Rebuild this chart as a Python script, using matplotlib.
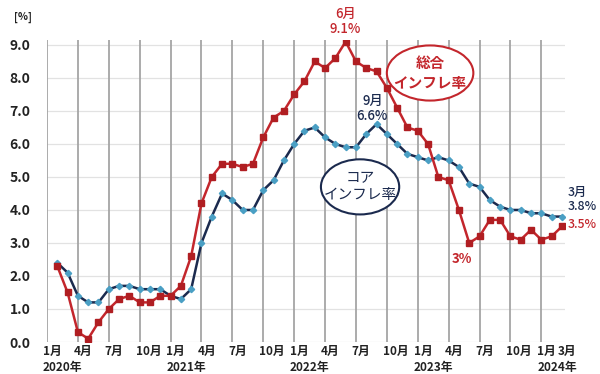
import matplotlib
matplotlib.use("Agg")
import matplotlib.pyplot as plt
from matplotlib.patches import Ellipse
import numpy as np

plt.rcParams['font.family'] = ['Noto Sans CJK JP', 'DejaVu Sans']

# month index: 0 = Jan 2020
start_month = 1  # data starts Feb 2020
headline = [2.3, 1.5, 0.3, 0.1, 0.6, 1.0, 1.3, 1.4, 1.2, 1.2, 1.4,
            1.4, 1.7, 2.6, 4.2, 5.0, 5.4, 5.4, 5.3, 5.4, 6.2, 6.8, 7.0,
            7.5, 7.9, 8.5, 8.3, 8.6, 9.1, 8.5, 8.3, 8.2, 7.7, 7.1, 6.5,
            6.4, 6.0, 5.0, 4.9, 4.0, 3.0, 3.2, 3.7, 3.7, 3.2, 3.1, 3.4,
            3.1, 3.2, 3.5]
core = [2.4, 2.1, 1.4, 1.2, 1.2, 1.6, 1.7, 1.7, 1.6, 1.6, 1.6,
        1.4, 1.3, 1.6, 3.0, 3.8, 4.5, 4.3, 4.0, 4.0, 4.6, 4.9, 5.5,
        6.0, 6.4, 6.5, 6.2, 6.0, 5.9, 5.9, 6.3, 6.6, 6.3, 6.0, 5.7,
        5.6, 5.5, 5.6, 5.5, 5.3, 4.8, 4.7, 4.3, 4.1, 4.0, 4.0, 3.9,
        3.9, 3.8, 3.8]
month_ticks = [0, 3, 6, 9, 12, 15, 18, 21, 24, 27, 30, 33, 36, 39, 42, 45, 48, 50]
month_labels = ['1月', '4月', '7月', '10月'] * 4 + ['1月', '3月']
year_pos = [0, 12, 24, 36, 48]
year_labels = ['2020年', '2021年', '2022年', '2023年', '2024年']

RED = '#c3262c'
NAVY = '#1b2a4e'
CYAN = '#4a9fc4'

x = np.arange(start_month, start_month + len(headline))

fig = plt.figure(figsize=(6, 3.74), dpi=100)
ax = fig.add_axes([47/600, 1 - 342/374, (565-47)/600, (342-40)/374])
ax.set_xlim(0, 50.3)
ax.set_ylim(0, 9.15)

for s in ax.spines.values():
    s.set_visible(False)
ax.set_yticks(np.arange(0, 9.1, 1.0))
ax.yaxis.grid(True, color='#e2e2e2', lw=0.9)
for m in range(0, 49, 3):
    ax.axvline(m, color='#a5a5a5', lw=1.3, zorder=1, ymin=-0.01)
ax.set_axisbelow(True)
ax.set_yticklabels([f'{v:.1f}' for v in np.arange(0, 9.1, 1.0)],
                   fontsize=10, fontweight='bold', color='#222222')
ax.tick_params(axis='y', length=0, pad=12)
ax.set_xticks([])

ax.plot(x, core, color=NAVY, lw=1.8, marker='D', markersize=3.2,
        markerfacecolor=CYAN, markeredgecolor=CYAN, zorder=3)
ax.plot(x, headline, color=RED, lw=1.8, marker='s', markersize=4.2,
        markerfacecolor='#b01e22', markeredgecolor='#b01e22', zorder=4)

# x labels
for m, lab in zip(month_ticks, month_labels):
    ax.text(m - 0.4, -0.3, lab, ha='left', va='center', fontsize=8.5,
            fontweight='bold', color='#222222', clip_on=False)
for m, lab in zip(year_pos, year_labels):
    ax.text(m - 0.4, -0.78, lab, ha='left', va='center', fontsize=8.5,
            fontweight='bold', color='#222222', clip_on=False)

fig.text(14/600, 1 - 17/374, '[%]', fontsize=7.5, fontweight='bold',
         color='#222222', va='center', ha='left')

# annotations
ax.text(29, 9.28, '6月\n9.1%', ha='center', va='bottom', fontsize=9.5,
        color=RED, linespacing=1.05, clip_on=False, fontweight='medium')
ax.text(31.6, 6.65, '9月\n6.6%', ha='center', va='bottom', fontsize=9.5,
        color=NAVY, linespacing=1.05, fontweight='medium')
ax.text(40.3, 2.5, '3%', ha='center', va='center', fontsize=9.5,
        color=RED, fontweight='bold')
ax.text(50.55, 4.32, '3月\n3.8%', ha='left', va='center', fontsize=8.8,
        color=NAVY, linespacing=1.05, clip_on=False, fontweight='medium')
ax.text(50.55, 3.55, '3.5%', ha='left', va='center', fontsize=8.8,
        color=RED, clip_on=False, fontweight='medium')

ax.add_patch(Ellipse((37.2, 8.15), 8.4, 1.67, facecolor='white',
                     edgecolor=RED, lw=1.5, zorder=5))
ax.text(37.2, 8.15, '総合\nインフレ率', ha='center', va='center', fontsize=10.5,
        color=RED, fontweight='bold', linespacing=1.25, zorder=6)
ax.add_patch(Ellipse((30.4, 4.7), 7.6, 1.67, facecolor='white',
                     edgecolor=NAVY, lw=1.5, zorder=5))
ax.text(30.4, 4.7, 'コア\nインフレ率', ha='center', va='center', fontsize=10.5,
        color=NAVY, linespacing=1.25, zorder=6)

fig.savefig('out.png', dpi=100, facecolor='white')
